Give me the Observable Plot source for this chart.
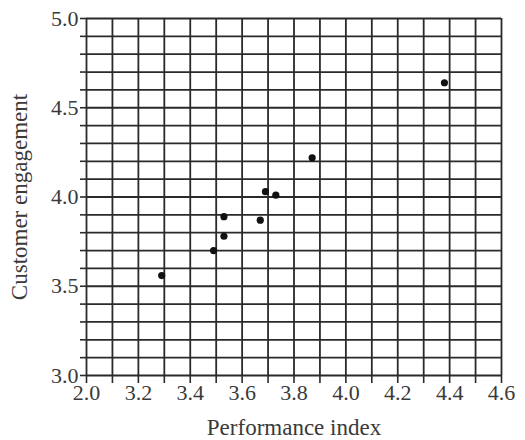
<!DOCTYPE html>
<html>
<head>
<meta charset="utf-8">
<script src="https://cdn.jsdelivr.net/npm/d3@7"></script>
<script src="https://cdn.jsdelivr.net/npm/@observablehq/plot@0.6"></script>
<style>
  html, body { margin: 0; padding: 0; background: #fff; }
  #chart { width: 525px; height: 440px; }
  #chart svg g[aria-label="x-axis label"] text,
  #chart svg g[aria-label="y-axis label"] text { font-size: 23px; }
</style>
</head>
<body>
<div id="chart"></div>
<script>
// Data
const perfIndex  = [3.29, 3.49, 3.53, 3.53, 3.67, 3.69, 3.73, 3.87, 4.38];
const engagement = [3.56, 3.70, 3.78, 3.89, 3.87, 4.03, 4.01, 4.22, 4.64];

// Axis ticks (x axis is broken: first label reads 2.0)
const xTickValues = [3.0, 3.2, 3.4, 3.6, 3.8, 4.0, 4.2, 4.4, 4.6];
const xTickLabels = ["2.0", "3.2", "3.4", "3.6", "3.8", "4.0", "4.2", "4.4", "4.6"];
const yTickValues = [3.0, 3.5, 4.0, 4.5, 5.0];
const yTickLabels = ["3.0", "3.5", "4.0", "4.5", "5.0"];

const xLabel = "Performance index";
const yLabel = "Customer engagement";

const points = perfIndex.map((x, i) => ({x, y: engagement[i]}));
const xGrid = d3.ticks(3.0, 4.6, 16);
const yGrid = d3.ticks(3.0, 5.0, 20);
const fmt = (vals, labels) => d => {
  const i = vals.findIndex(v => Math.abs(v - d) < 1e-9);
  return i >= 0 ? labels[i] : "";
};

const ink = "#2a2a2a";
const chart = Plot.plot({
  width: 525,
  height: 440,
  marginLeft: 86,
  marginRight: 24,
  marginTop: 18,
  marginBottom: 65,
  style: {fontFamily: "'Liberation Serif', 'DejaVu Serif', serif", fontSize: "22px", color: "#3a3a3a", background: "#fff"},
  x: {domain: [3.0, 4.6]},
  y: {domain: [3.0, 5.0]},
  marks: [
    Plot.gridX(xGrid, {stroke: ink, strokeOpacity: 1, strokeWidth: 1.8}),
    Plot.gridY(yGrid, {stroke: ink, strokeOpacity: 1, strokeWidth: 1.8}),
    Plot.axisX({ticks: xGrid, tickSize: 8, tickPadding: 1, stroke: ink, strokeWidth: 1.6,
      tickFormat: fmt(xTickValues, xTickLabels), label: xLabel, labelAnchor: "center", labelArrow: "none", labelOffset: 59}),
    Plot.axisY({ticks: yGrid, tickSize: 6, tickPadding: 2, stroke: ink, strokeWidth: 1.6,
      tickFormat: fmt(yTickValues, yTickLabels), label: yLabel, labelAnchor: "center", labelArrow: "none", labelOffset: 76}),
    Plot.dot(points, {x: "x", y: "y", r: 3.6, fill: "#111", stroke: "none"})
  ]
});
document.getElementById("chart").appendChild(chart);
</script>
</body>
</html>
